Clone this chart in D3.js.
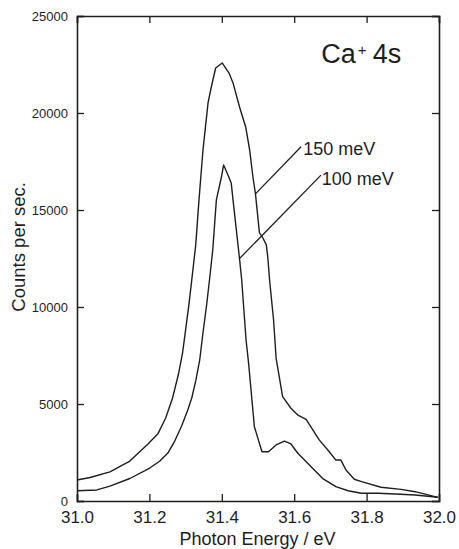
<!DOCTYPE html>
<html>
<head>
<meta charset="utf-8">
<script src="https://cdn.jsdelivr.net/npm/d3@7"></script>
<style>
  body { margin: 0; background: #fff; }
  svg { display: block; font-family: "Liberation Sans", Arial, sans-serif; }
</style>
</head>
<body>
<div id="my_dataviz"></div>
<script>

// photon energy (eV) and counts per sec.
var energy150 = [31.000, 31.036, 31.091, 31.146, 31.196, 31.223, 31.245, 31.264, 31.281, 31.292,
    31.300, 31.309, 31.317, 31.328, 31.337, 31.348, 31.362, 31.371, 31.383, 31.401,
    31.420, 31.431, 31.449, 31.466, 31.477, 31.486, 31.493, 31.504, 31.512, 31.523,
    31.527, 31.532, 31.543, 31.550, 31.568, 31.591, 31.610, 31.633, 31.669, 31.697,
    31.715, 31.729, 31.743, 31.766, 31.786, 31.840, 31.895, 31.934, 31.997];
var counts150 = [1080, 1210, 1500, 2060, 2940, 3450, 4280, 5310, 6600, 7680,
    8820, 10100, 11390, 13200, 15520, 18090, 20520, 21340, 22320, 22580,
    22060, 21550, 20310, 19280, 18090, 16700, 15830, 13820, 13610, 13200,
    12580, 11390, 9330, 7370, 5380, 4780, 4430, 4210, 3150, 2540,
    2110, 2110, 1600, 1120, 1000, 710, 600, 480, 190];

var energy100 = [31.000, 31.055, 31.091, 31.146, 31.201, 31.229, 31.251, 31.270, 31.289, 31.306,
    31.317, 31.328, 31.339, 31.348, 31.358, 31.366, 31.375, 31.385, 31.399, 31.405,
    31.417, 31.426, 31.431, 31.449, 31.455, 31.467, 31.474, 31.490, 31.511, 31.529,
    31.550, 31.573, 31.591, 31.610, 31.642, 31.678, 31.715, 31.749, 31.785, 31.832,
    31.879, 31.934, 31.997];
var counts100 = [530, 570, 770, 1160, 1700, 2060, 2470, 3090, 3870, 4690,
    5310, 6190, 7270, 8660, 10100, 11390, 12940, 15520, 16700, 17320,
    16800, 16390, 15520, 12480, 11390, 8300, 7110, 3830, 2540, 2540,
    2890, 3090, 2940, 2460, 1860, 1170, 740, 530, 400, 400,
    360, 310, 190];

var xTicks = [31.0, 31.2, 31.4, 31.6, 31.8, 32.0];
var yTicks = [0, 5000, 10000, 15000, 20000, 25000];

// label text, where it sits and where its leader line ends (data units)
var labels = ["150 meV", "100 meV"];
var labelEnergy = [31.625, 31.676];
var labelCounts = [17840, 16290];
var leaderFrom = [[31.619, 18260], [31.674, 16800]];
var leaderTo = [[31.493, 15830], [31.448, 12480]];

// set the dimensions and margins of the graph
var margin = {top: 16, right: 20, bottom: 48, left: 77},
    width = 459 - margin.left - margin.right,
    height = 549 - margin.top - margin.bottom;

var svg = d3.select("#my_dataviz")
  .append("svg")
    .attr("width", 459)
    .attr("height", 549)
  .append("g")
    .attr("transform", "translate(" + margin.left + "," + margin.top + ")");

var x = d3.scaleLinear()
    .domain([31, 32])
    .range([0, width]);
var y = d3.scaleLinear()
    .domain([0, 25000])
    .range([height, 0]);

var ink = "#1e1e1e";

// axes with inward ticks on all four sides
var xAxis = svg.append("g")
    .attr("transform", "translate(0," + height + ")")
    .call(d3.axisBottom(x).tickValues(xTicks).tickFormat(d3.format(".1f"))
        .tickSize(-7).tickPadding(10));
xAxis.selectAll("text").style("font-size", "17px");

var yAxis = svg.append("g")
    .call(d3.axisLeft(y).tickValues(yTicks).tickFormat(d3.format("d"))
        .tickSize(-7).tickPadding(9));
yAxis.selectAll("text").style("font-size", "13px");

svg.append("g")
    .call(d3.axisTop(x).tickValues(xTicks).tickFormat("").tickSize(-7));
svg.append("g")
    .attr("transform", "translate(" + width + ",0)")
    .call(d3.axisRight(y).tickValues(yTicks).tickFormat("").tickSize(-7));

svg.selectAll(".domain").attr("stroke", ink).attr("stroke-width", 1.6);
svg.selectAll(".tick line").attr("stroke", ink).attr("stroke-width", 1.3);
svg.selectAll(".tick text").attr("fill", ink);

// axis titles
svg.append("text")
    .attr("x", x(31.283))
    .attr("y", height + 44)
    .attr("fill", ink)
    .style("font-size", "18px")
    .text("Photon Energy / eV");

svg.append("text")
    .attr("transform", "translate(" + (-52) + "," + y(13100) + ") rotate(-90)")
    .attr("text-anchor", "middle")
    .attr("fill", ink)
    .style("font-size", "18.5px")
    .text("Counts per sec.");

// the two curves
var line = d3.line()
    .x(function(d) { return x(d[0]); })
    .y(function(d) { return y(d[1]); });

[[energy150, counts150], [energy100, counts100]].forEach(function(s) {
  svg.append("path")
      .datum(d3.zip(s[0], s[1]))
      .attr("fill", "none")
      .attr("stroke", ink)
      .attr("stroke-width", 1.4)
      .attr("stroke-linejoin", "round")
      .attr("d", line);
});

// leader lines and labels
labels.forEach(function(t, i) {
  svg.append("line")
      .attr("x1", x(leaderFrom[i][0])).attr("y1", y(leaderFrom[i][1]))
      .attr("x2", x(leaderTo[i][0])).attr("y2", y(leaderTo[i][1]))
      .attr("stroke", ink)
      .attr("stroke-width", 1.3);
  svg.append("text")
      .attr("x", x(labelEnergy[i]))
      .attr("y", y(labelCounts[i]))
      .attr("fill", ink)
      .style("font-size", "18px")
      .text(t);
});

// species label
var title = svg.append("text")
    .attr("x", x(31.675))
    .attr("y", y(22560))
    .attr("fill", ink)
    .style("font-size", "27px");
title.append("tspan").text("Ca");
title.append("tspan").attr("dy", -8).attr("dx", 2).style("font-size", "15px").text("+");
title.append("tspan").attr("dy", 8).attr("dx", 6).text("4s");

</script>
</body>
</html>
